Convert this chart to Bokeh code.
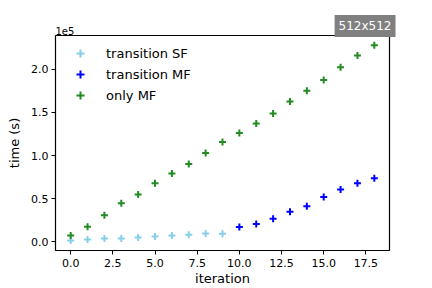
from bokeh.plotting import figure
from bokeh.models import Range1d, FixedTicker, Legend, LegendItem, Title
from bokeh.embed import file_html
from bokeh.resources import INLINE

# Data
iter_sf = [0, 1, 2, 3, 4, 5, 6, 7, 8, 9]
time_sf = [1500, 2600, 3800, 3800, 4900, 6100, 7200, 8300, 9500, 9300]

iter_mf = [10, 11, 12, 13, 14, 15, 16, 17, 18]
time_mf = [17100, 20600, 26700, 34700, 41100, 51800, 60600, 67800, 73500]

iter_only = list(range(19))
time_only = [7200, 17500, 30900, 44600, 54900, 67800, 79200, 90300, 102900,
             115800, 126100, 137100, 148600, 162700, 175200, 187400, 202300,
             216000, 227800]

x_ticks = [0, 2.5, 5, 7.5, 10, 12.5, 15, 17.5]
x_tick_labels = ["0.0", "2.5", "5.0", "7.5", "10.0", "12.5", "15.0", "17.5"]
y_ticks = [0, 50000, 100000, 150000, 200000]
y_tick_labels = ["0.0", "0.5", "1.0", "1.5", "2.0"]

FONT = "DejaVu Sans"
XMIN, XMAX = -0.9, 18.9
YMIN, YMAX = -10100, 239100

p = figure(width=432, height=288, output_backend="svg", toolbar_location=None,
           x_range=Range1d(XMIN, XMAX), y_range=Range1d(YMIN, YMAX),
           min_border_left=55, min_border_right=43, min_border_top=35,
           min_border_bottom=37)

p.xgrid.visible = False
p.ygrid.visible = False
p.outline_line_color = "black"
p.outline_line_width = 1.2
p.background_fill_color = "white"
p.border_fill_color = "white"

r_sf = p.scatter(iter_sf, time_sf, marker="cross", size=7, line_width=2,
                 line_color="skyblue")
r_mf = p.scatter(iter_mf, time_mf, marker="cross", size=7, line_width=2,
                 line_color="blue")
r_only = p.scatter(iter_only, time_only, marker="cross", size=7, line_width=2,
                   line_color="forestgreen")

for ax in (p.xaxis[0], p.yaxis[0]):
    ax.axis_line_color = None
    ax.major_tick_line_color = "black"
    ax.major_tick_out = 4
    ax.major_tick_in = 0
    ax.minor_tick_line_color = None
    ax.major_label_text_font = FONT
    ax.major_label_text_font_size = "11px"
    ax.major_label_text_color = "black"
    ax.axis_label_text_font = FONT
    ax.axis_label_text_font_size = "13px"
    ax.axis_label_text_font_style = "normal"
    ax.axis_label_text_color = "black"

p.xaxis.ticker = FixedTicker(ticks=x_ticks)
p.xaxis.major_label_overrides = {t: l for t, l in zip(x_ticks, x_tick_labels)}
p.xaxis.major_label_standoff = 4
p.xaxis.axis_label_standoff = 1
p.yaxis.ticker = FixedTicker(ticks=y_ticks)
p.yaxis.major_label_overrides = {t: l for t, l in zip(y_ticks, y_tick_labels)}
p.yaxis.major_label_standoff = 3
p.yaxis.axis_label_standoff = 6
p.xaxis.axis_label = "iteration"
p.yaxis.axis_label = "time (s)"

legend = Legend(items=[
    LegendItem(label="transition SF", renderers=[r_sf]),
    LegendItem(label="transition MF", renderers=[r_mf]),
    LegendItem(label="only MF", renderers=[r_only]),
], location="top_left")
legend.border_line_color = None
legend.background_fill_alpha = 0
legend.margin = 8
legend.padding = 0
legend.glyph_width = 34
legend.label_standoff = 9
legend.spacing = 1
legend.label_text_font = FONT
legend.label_text_font_size = "13px"
legend.label_text_color = "black"
p.add_layout(legend)

# offset text of the y axis, just above the top-left corner
p.add_layout(Title(text="1e5", align="left", text_font=FONT,
                   text_font_size="10px", text_font_style="normal",
                   text_color="black", standoff=1, offset=0), "above")

# boxed size tag at the top-right corner
p.add_layout(Title(text="512x512", align="right", text_font=FONT,
                   text_font_size="12px", text_font_style="normal",
                   text_color="white", background_fill_color="gray",
                   background_fill_alpha=1.0, standoff=-25, offset=-6,
                   padding=4), "above")

open("out.html", "w").write(file_html(p, INLINE))
